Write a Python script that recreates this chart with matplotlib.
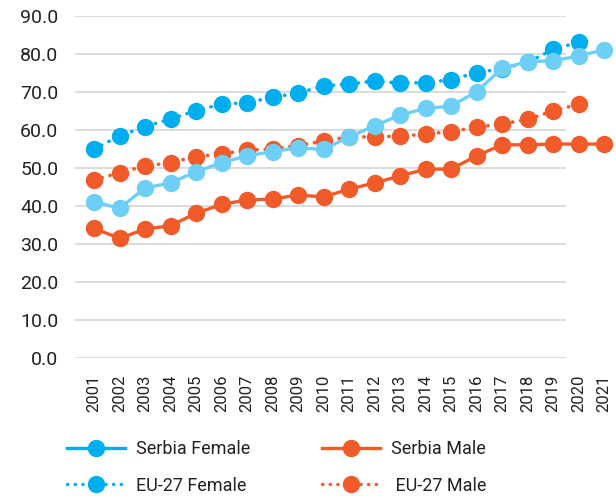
import matplotlib
matplotlib.use("Agg")
import matplotlib.pyplot as plt
from matplotlib.lines import Line2D

plt.rcParams['font.family'] = ['Roboto', 'DejaVu Sans']

years = list(range(2001, 2022))
years_eu = list(range(2001, 2021))

serbia_female = [41.1, 39.4, 44.7, 46.1, 49.0, 51.4, 53.2, 54.3, 55.3, 54.9, 58.2,
                 61.1, 63.9, 65.7, 66.3, 70.1, 76.2, 78.0, 78.2, 79.5, 81.1]
serbia_male = [34.1, 31.5, 33.9, 34.8, 38.1, 40.4, 41.6, 41.8, 42.9, 42.4, 44.4,
               46.1, 47.9, 49.7, 49.7, 53.2, 56.1, 56.1, 56.3, 56.3, 56.3]
eu_female = [55.0, 58.4, 60.9, 62.9, 65.1, 66.8, 67.2, 68.6, 69.7, 71.6,
             72.1, 72.9, 72.3, 72.5, 73.2, 75.1, 76.1, 77.8, 81.2, 83.1]
eu_male = [46.8, 48.8, 50.5, 51.4, 53.0, 53.7, 54.7, 55.0, 55.9, 57.1,
           58.2, 58.2, 58.4, 58.9, 59.6, 60.7, 61.6, 62.8, 65.0, 66.8]

blue = '#00AEEF'
light_blue = '#6DCFF6'
orange = '#F15A29'
dots = (0, (0.1, 2.2))
ms = 11.5

fig = plt.figure(figsize=(6.16, 5.0), dpi=100)
ax = fig.add_axes([75/616, 1-358/500, 537/616, 342/500])

ax.set_xlim(2000.255, 2021.31)
ax.set_ylim(0, 90)
yt = range(0, 91, 10)
ax.hlines(yt, 2000.255, 2019.51, color='#d9d9d9', lw=1.3, zorder=0)

ax.plot(years_eu, eu_female, color=blue, ls=dots, lw=2.6, dash_capstyle='round',
        marker='o', ms=ms, clip_on=False, zorder=3)
ax.plot(years_eu, eu_male, color=orange, ls=dots, lw=2.6, dash_capstyle='round',
        marker='o', ms=ms, clip_on=False, zorder=3)
ax.plot(years, serbia_male, color=orange, lw=2.4, marker='o', ms=ms,
        clip_on=False, zorder=4)
ax.plot(years, serbia_female, color=light_blue, lw=2.4, marker='o', ms=ms,
        clip_on=False, zorder=4)

for s in ax.spines.values():
    s.set_visible(False)
ax.set_yticks(list(yt))
ax.set_yticklabels(['%.1f' % v for v in yt], fontsize=14, color='#222222')
ax.set_xticks(years)
ax.set_xticklabels([str(y) for y in years], rotation=90, fontsize=12, color='#222222')
ax.tick_params(axis='both', length=0)
ax.tick_params(axis='y', pad=12)
ax.tick_params(axis='x', pad=12)

handles = [
    Line2D([], [], color=blue, lw=2.4, marker='o', ms=ms),
    Line2D([], [], color=blue, lw=2.4, ls=dots, dash_capstyle='round', marker='o', ms=ms),
    Line2D([], [], color=orange, lw=2.4, marker='o', ms=ms),
    Line2D([], [], color=orange, lw=2.4, ls=dots, dash_capstyle='round', marker='o', ms=ms),
]
labels = ['Serbia Female', 'EU-27 Female', 'Serbia Male', ' EU-27 Male']
fig.legend(handles, labels, ncol=2, loc='center', bbox_to_anchor=(0.449, 0.065),
           frameon=False, fontsize=13, handlelength=3.2, handletextpad=0.6,
           columnspacing=4.0, labelspacing=1.0, labelcolor='#222222')

fig.savefig('out.png', dpi=100)
